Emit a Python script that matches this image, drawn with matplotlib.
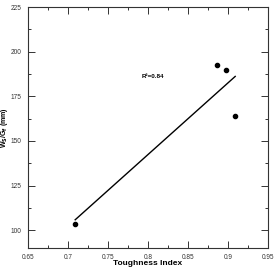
import numpy as np
import matplotlib
matplotlib.use("Agg")
import matplotlib.pyplot as plt
from matplotlib.ticker import MultipleLocator

plt.rcParams['font.family'] = ['Liberation Sans', 'DejaVu Sans']

toughness = [0.709, 0.886, 0.897, 0.909]
ws_gf = [103.5, 192.6, 189.8, 164.2]
r2_label = "R²=0.84"
xticks = [0.65, 0.7, 0.75, 0.8, 0.85, 0.9, 0.95]
xticklabels = ["0.65", "0.7", "0.75", "0.8", "0.85", "0.9", "0.95"]
yticks = [100, 125, 150, 175, 200, 225]

fig = plt.figure(figsize=(2.77, 2.73), dpi=100)
ax = fig.add_axes([28/277, 1-248/273, 240/277, 241/273])

x = np.array(toughness)
y = np.array(ws_gf)
slope, intercept = np.polyfit(x, y, 1)
xl = np.array([x.min(), x.max()])
ax.plot(xl, slope*xl + intercept, color='black', lw=1.0)
ax.scatter(x, y, s=9, color='black', zorder=3)

ax.text(0.7926, 186, r2_label, fontsize=4.5, fontweight='bold', va='center', ha='left')

ax.set_xlim(0.65, 0.95)
ax.set_ylim(90, 225)
ax.set_xticks(xticks)
ax.set_xticklabels(xticklabels)
ax.set_yticks(yticks)
ax.xaxis.set_minor_locator(MultipleLocator(0.025))
ax.yaxis.set_minor_locator(MultipleLocator(12.5))
ax.tick_params(which='both', direction='in', top=True, right=True, labelsize=4.7,
               labelcolor='#333333', color='#333333', width=0.7)
ax.tick_params(axis='y', which='major', pad=4.8)
ax.tick_params(axis='x', which='major', pad=4.5)
ax.tick_params(which='major', length=4.7)
ax.tick_params(which='minor', length=2.5)
for s in ax.spines.values():
    s.set_color('#333333')
    s.set_linewidth(0.8)

ax.set_xlabel("Toughness Index", fontsize=6, fontweight='bold', va='center')
ax.xaxis.set_label_coords(0.5, -15.7/241)
ax.set_ylabel(r"W$_\mathbf{S}$/G$_\mathbf{f}$ (mm)", fontsize=5.0, fontweight='bold', va='center')
ax.yaxis.set_label_coords(-23.2/240, 0.5)

fig.savefig("out.png", dpi=100)
